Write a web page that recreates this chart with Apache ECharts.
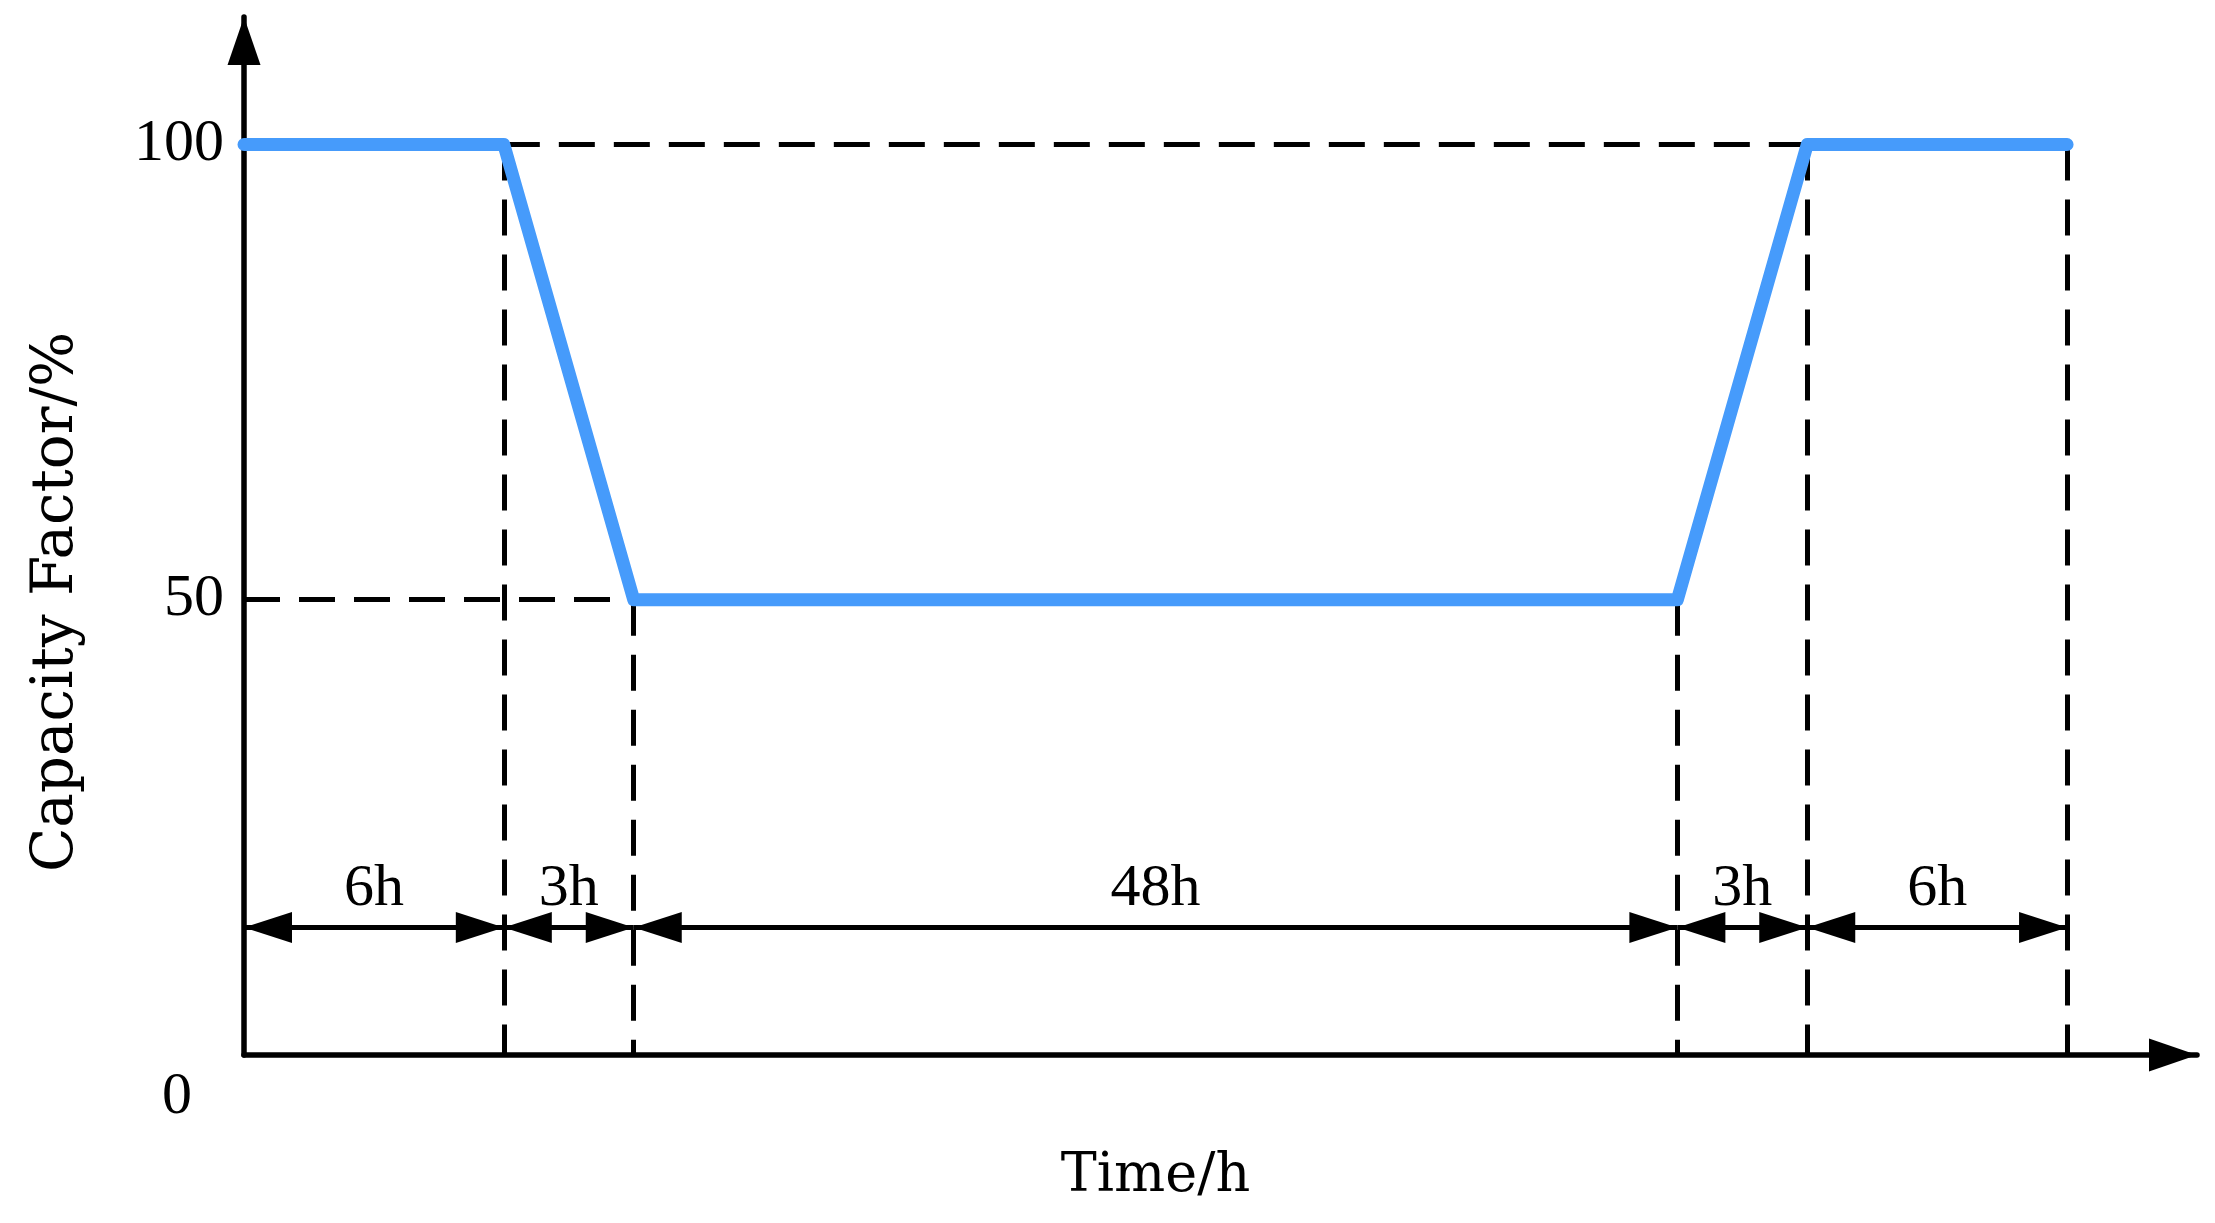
<!DOCTYPE html>
<html>
<head>
<meta charset="utf-8">
<title>Capacity Factor</title>
<script src="https://cdn.jsdelivr.net/npm/echarts@6.0.0/dist/echarts.min.js"></script>
<style>
html, body { margin: 0; padding: 0; background: #fff; }
#chart { width: 2215px; height: 1223px; }
</style>
</head>
<body>
<div id="chart"></div>
<script>
// breakpoints of the profile (h) and the capacity factor (%) at each one
const times = [0, 6, 9, 57, 60, 66];
const factor = [100, 100, 50, 50, 100, 100];
// duration labels between consecutive breakpoints
const spans = ['6h', '3h', '48h', '3h', '6h'];
// level (%) where the duration arrows are drawn
const spanLevel = 14;
// y tick labels
const yTicks = [50, 100];

const serif = 'Liberation Serif';
const titleFont = 'DejaVu Serif';

const profile = times.map((t, i) => [t, factor[i]]);

// dashed guide lines
const guides = [];
guides.push([{ coord: [times[0], factor[2]] }, { coord: [times[2], factor[2]] }]);
guides.push([{ coord: [times[1], factor[1]] }, { coord: [times[5], factor[5]] }]);
for (let i = 1; i < times.length; i++) {
    guides.push([{ coord: [times[i], factor[i]] }, { coord: [times[i], 0] }]);
}

// double arrows with their duration labels
const dims = spans.map((s, i) => [
    { name: s, coord: [times[i], spanLevel] },
    { coord: [times[i + 1], spanLevel] }
]);

const axisLine = {
    onZero: false,
    breakLine: false,
    lineStyle: { color: '#000', width: 5.5 },
    symbol: ['none', 'triangle'],
    symbolSize: [33, 48],
    symbolOffset: [0, -24]
};

const option = {
    backgroundColor: '#fff',
    animation: false,
    grid: { left: 244, right: 18, top: 17, bottom: 168, outerBoundsMode: 'none' },
    xAxis: {
        type: 'value',
        min: 0,
        max: 69,
        // the 48h plateau is drawn compressed
        breaks: [{ start: 21, end: 44.9, gap: 0 }],
        breakArea: { show: false, itemStyle: { opacity: 0, borderWidth: 0 } },
        name: 'Time/h',
        nameLocation: 'middle',
        nameGap: 95,
        nameTextStyle: { fontFamily: titleFont, fontSize: 54, color: '#000', padding: [0, 130, 0, 0] },
        axisLine: axisLine,
        axisTick: { show: false },
        axisLabel: { show: false },
        splitLine: { show: false }
    },
    yAxis: {
        type: 'value',
        min: 0,
        max: 114,
        interval: 50,
        name: 'Capacity Factor/%',
        nameLocation: 'middle',
        nameGap: 158,
        nameTextStyle: { fontFamily: titleFont, fontSize: 58, color: '#000', padding: [0, 132, 0, 0] },
        axisLine: axisLine,
        axisTick: { show: false },
        splitLine: { show: false },
        axisLabel: {
            customValues: yTicks,
            fontFamily: serif,
            fontSize: 60,
            color: '#000',
            margin: 20
        }
    },
    series: [
        {
            name: 'guides',
            type: 'line',
            data: [],
            markLine: {
                silent: true,
                symbol: ['none', 'none'],
                label: { show: false },
                lineStyle: { color: '#000', width: 5, type: [36, 19] },
                data: guides
            },
            markPoint: {
                silent: true,
                symbol: 'circle',
                symbolSize: 0,
                label: {
                    show: true,
                    position: 'inside',
                    formatter: '0',
                    offset: [-67, 42],
                    fontFamily: serif,
                    fontSize: 60,
                    color: '#000'
                },
                data: [{ coord: [0, 0] }]
            }
        },
        {
            name: 'spans',
            type: 'line',
            data: [],
            markLine: {
                silent: true,
                symbol: ['triangle', 'triangle'],
                symbolSize: [31, 48],
                symbolOffset: [[0, 24], [0, 24]],
                itemStyle: { color: '#000' },
                lineStyle: { color: '#000', width: 5, type: 'solid' },
                label: {
                    show: true,
                    position: 'middle',
                    formatter: '{b}',
                    distance: 8,
                    fontFamily: serif,
                    fontSize: 60,
                    color: '#000'
                },
                data: dims
            }
        },
        {
            name: 'Capacity Factor',
            type: 'line',
            z: 10,
            data: profile,
            symbol: 'none',
            lineStyle: { color: '#469bfb', width: 13, cap: 'round', join: 'round' },
            itemStyle: { color: '#469bfb' }
        }
    ]
};

const chart = echarts.init(document.getElementById('chart'));
chart.setOption(option);
</script>
</body>
</html>
